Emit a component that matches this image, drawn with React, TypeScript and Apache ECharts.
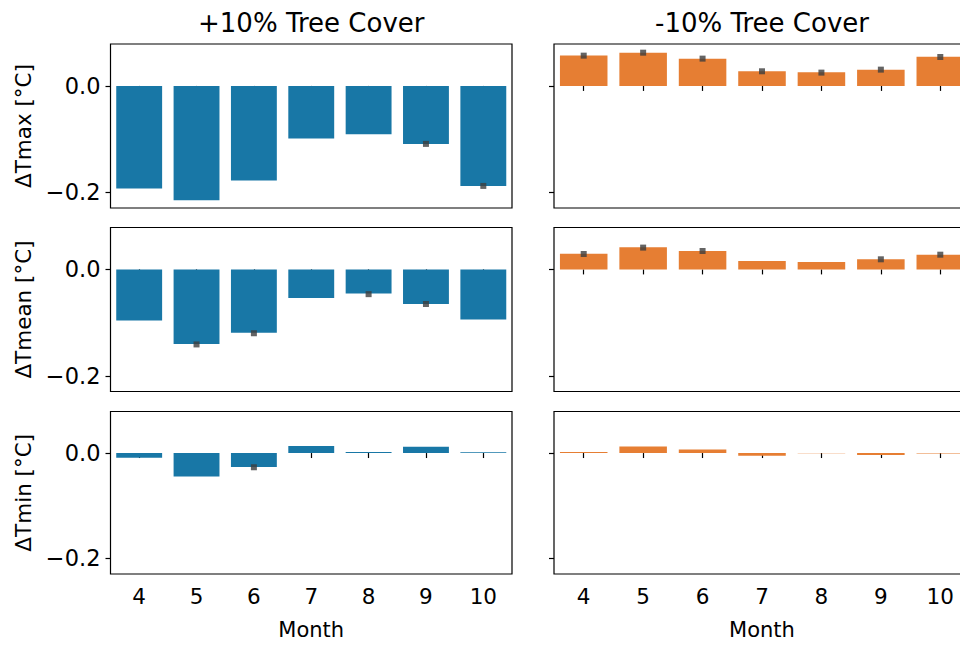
import React, { useEffect, useRef } from "react";
import * as echarts from "echarts";

const months = ["4", "5", "6", "7", "8", "9", "10"];
const rowNames = ["ΔTmax [°C]", "ΔTmean [°C]", "ΔTmin [°C]"];
const colTitles = ["+10% Tree Cover", "-10% Tree Cover"];
const yTicks = [-0.2, 0];

const tmaxPlus = [-0.193, -0.215, -0.178, -0.099, -0.091, -0.109, -0.188];
const tmaxMinus = [0.057, 0.0625, 0.0513, 0.0275, 0.0257, 0.0306, 0.055];
const tmeanPlus = [-0.0962, -0.14, -0.119, -0.0535, -0.0453, -0.0648, -0.0943];
const tmeanMinus = [0.0296, 0.0415, 0.0346, 0.0157, 0.0138, 0.0189, 0.0277];
const tminPlus = [-0.0088, -0.0445, -0.0263, 0.0132, 0.0019, 0.0119, 0.0013];
const tminMinus = [0.0019, 0.0125, 0.0069, -0.005, -0.0006, -0.0038, -0.001];

const tmaxPlusErr = [null, null, null, null, null, -0.109, -0.188];
const tmaxMinusErr = [0.0569, 0.0625, 0.0513, 0.0275, 0.025, 0.0306, 0.0544];
const tmeanPlusErr = [null, -0.141, -0.12, null, -0.0465, -0.065, null];
const tmeanMinusErr = [0.029, 0.041, 0.0346, null, null, 0.019, 0.0277];
const tminPlusErr = [null, null, -0.027, null, null, null, null];
const tminMinusErr = [null, null, null, null, null, null, null];

const FONT = "DejaVu Sans";

export default function App() {
  const ref = useRef<HTMLDivElement>(null);
  useEffect(() => {
    if (!ref.current) return;
    const chart = echarts.init(ref.current, null, { renderer: "svg" });
    const panels = [
      [tmaxPlus, tmaxPlusErr, tmaxMinus, tmaxMinusErr],
      [tmeanPlus, tmeanPlusErr, tmeanMinus, tmeanMinusErr],
      [tminPlus, tminPlusErr, tminMinus, tminMinusErr],
    ];
    const tops = [44, 227.5, 411.5];
    const heights = [164, 164, 162.5];
    const cols = [
      { left: 110.5, width: 401.5, color: "#1877a6" },
      { left: 554, width: 416, color: "#e67e33" },
    ];
    const grids: any[] = [];
    const xAxes: any[] = [];
    const yAxes: any[] = [];
    const series: any[] = [];
    let idx = 0;
    for (let r = 0; r < 3; r++) {
      for (let c = 0; c < 2; c++) {
        grids.push({
          left: cols[c].left,
          width: cols[c].width,
          top: tops[r],
          height: heights[r],
          show: true,
          borderColor: "#000",
          borderWidth: 1.2,
          backgroundColor: "transparent",
        });
        xAxes.push({
          type: "category",
          gridIndex: idx,
          data: months,
          axisLine: { show: false },
          axisTick: {
            show: true,
            alignWithLabel: true,
            length: 5,
            lineStyle: { color: "#000", width: 1.2 },
          },
          axisLabel: {
            show: r === 2,
            margin: 11,
            fontSize: 21.5,
            fontFamily: FONT,
            color: "#000",
          },
          name: r === 2 ? "Month" : "",
          nameLocation: "middle",
          nameGap: 45,
          nameTextStyle: { fontSize: 21, fontFamily: FONT, color: "#000" },
          splitLine: { show: false },
        });
        yAxes.push({
          type: "value",
          gridIndex: idx,
          min: -0.2295,
          max: 0.0788,
          axisLine: { show: false },
          splitLine: { show: false },
          axisTick: {
            show: true,
            customValues: yTicks,
            length: 5,
            lineStyle: { color: "#000", width: 1.2 },
          },
          axisLabel: {
            show: c === 0,
            customValues: yTicks,
            margin: 10,
            fontSize: 22.5,
            fontFamily: FONT,
            color: "#000",
            formatter: (v: number) => (Math.abs(v) < 1e-9 ? "0.0" : "\u2212" + Math.abs(v).toFixed(1)),
          },
          name: c === 0 ? rowNames[r] : "",
          nameLocation: "middle",
          nameRotate: 90,
          nameGap: 76,
          nameTextStyle: { fontSize: 21.5, fontFamily: FONT, color: "#000" },
        });
        const vals = panels[r][c * 2] as number[];
        const errs = panels[r][c * 2 + 1] as (number | null)[];
        series.push({
          type: "bar",
          xAxisIndex: idx,
          yAxisIndex: idx,
          data: vals,
          barCategoryGap: "20%",
          itemStyle: { color: cols[c].color },
          z: 2,
        });
        series.push({
          type: "scatter",
          xAxisIndex: idx,
          yAxisIndex: idx,
          data: errs.map((e) => (e === null ? "-" : e)),
          symbol: "rect",
          symbolSize: [6, 6],
          itemStyle: { color: "#3d3d3d" },
          z: 3,
        });
        idx++;
      }
    }
    const graphics = colTitles.map((t, c) => ({
      type: "text",
      x: cols[c].left + cols[c].width / 2,
      y: 23,
      style: {
        text: t,
        fontSize: 26,
        fontFamily: FONT,
        fill: "#000",
        align: "center",
        verticalAlign: "middle",
      },
    }));
    chart.setOption({
      animation: false,
      backgroundColor: "#fff",
      grid: grids,
      xAxis: xAxes,
      yAxis: yAxes,
      series,
      graphic: graphics,
    });
    return () => chart.dispose();
  }, []);
  return (
    <div
      style={{
        position: "fixed",
        left: 0,
        top: 0,
        width: 960,
        height: 646,
        overflow: "hidden",
        background: "#fff",
      }}
    >
      <div ref={ref} style={{ width: 980, height: 646 }} />
    </div>
  );
}
